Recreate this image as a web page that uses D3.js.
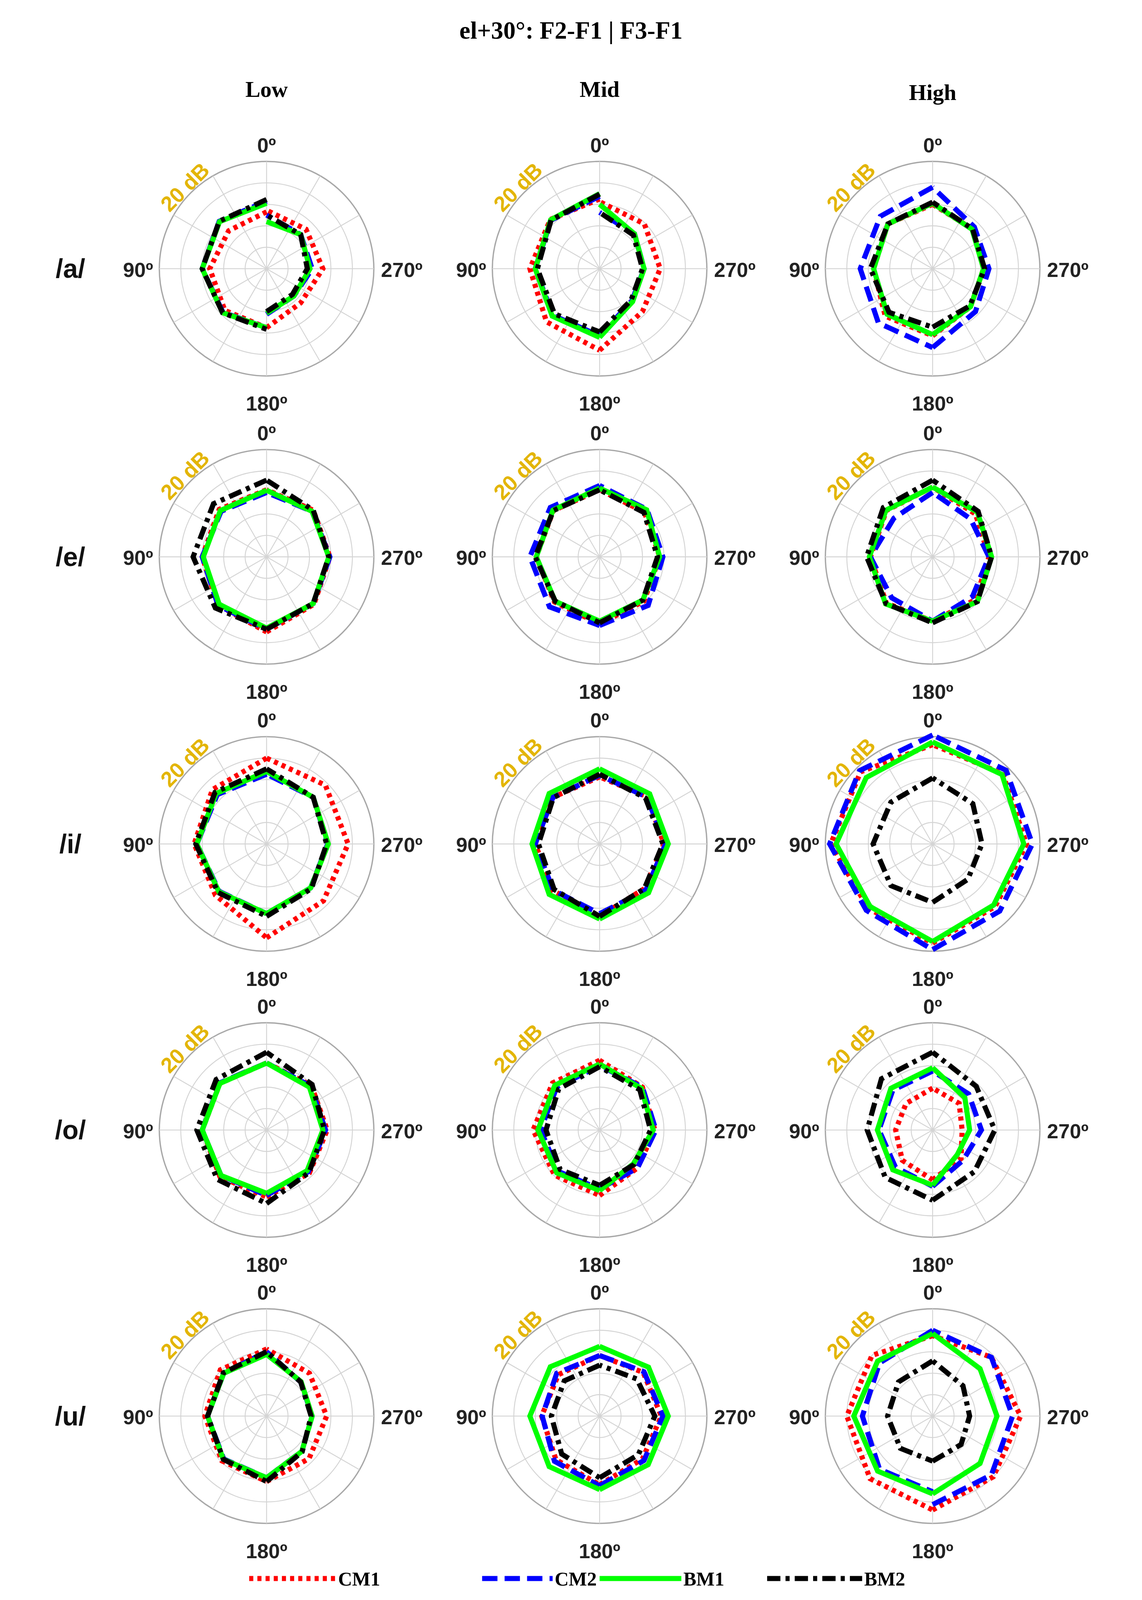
<!DOCTYPE html>
<html>
<head>
<meta charset="utf-8">
<script src="https://cdn.jsdelivr.net/npm/d3@7"></script>
<style>
  html, body { margin: 0; padding: 0; background: #fff; overflow: hidden; }
  svg { display: block; }
</style>
</head>
<body>
<div id="chart"></div>
<script>
// data, in dB (outer ring = 20 dB)
var vowels = ['/a/', '/e/', '/i/', '/o/', '/u/'];
var levels = ['Low', 'Mid', 'High'];
var seriesNames = ['CM1', 'CM2', 'BM1', 'BM2'];
var leftAngles = [0, 45, 90, 135, 180];
var rightAngles = [180, 225, 270, 315, 360];
var ringTicks = [4, 8, 12, 16, 20];
var spokeAngles = d3.range(0, 360, 30);
var tickLabels = ['0º', '90º', '180º', '270º'];

// each entry: [left half values, right half values], per series CM1, CM2, BM1, BM2
var lowA = [[[10.6,10,10.6,11,11],[11,9,10.5,10.4,10.9]], [[12.6,12.5,12,11.5,11],[8.5,7.2,8.5,9,10]], [[12.2,12.4,12,11.6,11],[8.3,7.2,8.1,9,8.8]], [[12.9,12.5,12,11.6,11.3],[8,6.8,7.6,9,10]]];
var lowE = [[[12.5,12.5,12,12.8,14],[14,12.5,11.8,12.3,12.5]], [[12,12,12,12.8,13.5],[13.5,12.3,11.8,12,12]], [[12.4,12.2,11.8,12.5,13.3],[13.3,12.3,11.6,12,12.4]], [[14.3,14,13.7,13.5,13.5],[13.5,12.3,11.6,12.3,14.3]]];
var lowI = [[[16,14.3,13.5,13.5,17.5],[17.5,15,15.2,15.5,16]], [[13,13,13,12.5,13],[13,11.6,11.4,12.3,13]], [[13.5,13.3,13,12.6,13],[13,11.6,11.5,12.3,13.5]], [[14,13.6,13.2,12.8,13.5],[13.5,11.8,11.2,12.3,14]]];
var lowO = [[[12.5,12.3,12,12.3,12.5],[12.5,11.3,11.3,11.8,12.5]], [[12.5,12.4,12,12,12.2],[12.2,11,11,11.6,12.5]], [[12.5,12.3,12,12,11.8],[11.8,10.7,10.5,11.3,12.5]], [[14.5,13.3,13,13,13.7],[13.7,11.2,10.8,12,14.5]]];
var lowU = [[[12.5,12.2,11.5,11.8,12.2],[12.2,11.2,11.2,11.3,12.5]], [[12,11.3,11,11.3,11.5],[11.5,9.3,8.5,9,12]], [[11.5,11.3,11,11.4,11.5],[11.5,9.3,8.5,9.1,11.5]], [[12,11.4,11,11.4,12.2],[12.2,9.4,8.3,9,12]]];
var midA = [[[13,13,13,14,15.2],[15.2,11.3,11.3,11.8,12.5]], [[13.5,12.8,12,12.3,12.5],[12.5,8.5,8.3,9.2,10.5]], [[14,12.9,12,12.5,12.8],[12.8,8.7,8.3,9.2,12]], [[13.9,12.8,11.6,11.9,11.8],[11.8,8.3,8,8.9,10.5]]];
var midE = [[[12.5,12.2,11.8,11.9,12.5],[12.5,11.7,11.2,11.8,12.5]], [[13.3,13,13,13.2,12.8],[12.8,12.8,11.8,12.5,13.3]], [[12.8,12.3,11.8,11.7,12],[12,11.4,11.2,12.4,12.8]], [[12.5,12.2,12,11.7,12.3],[12.3,11.4,10.8,11.7,12.5]]];
var midI = [[[12.5,12.3,12,12.3,13.5],[13.5,11.8,12,12.5,12.5]], [[12.8,12.3,12,12.2,13],[13,12.2,12.3,12.4,12.8]], [[14,13.3,12.6,13.3,14],[14,12.9,12.8,13.2,14]], [[13,12.2,11.4,12,13.5],[13.5,11.8,11.8,12.1,13]]];
var midO = [[[13,12.4,12.4,11.9,12.2],[12.2,10,10.3,11.3,13]], [[12,11.3,11,10.9,11],[11,10,10.5,11.3,12]], [[12.3,11.8,11.5,11.3,11.3],[11.3,8.9,10,11,12.3]], [[11.8,10.8,10,10.4,10.3],[10.3,9.1,9.5,10.6,11.8]]];
var midU = [[[11.3,10.9,10.8,11.5,12.8],[12.8,11.3,11.5,11.5,11.3]], [[11.3,11.3,10.7,11.9,13],[13,11.7,11.8,11.7,11.3]], [[13,13,13,13.3,13.7],[13.7,12.8,12.8,12.9,13]], [[9.5,9.3,9,10,11.5],[11.5,10.2,10.3,9.8,9.5]]];
var highA = [[[12,11.8,11,12.5,12.5],[12.5,10,9.5,10.5,12]], [[15.2,13.8,13.5,14.3,14.7],[14.7,11.3,10.5,11,15.2]], [[12.2,11.8,11,12,12.3],[12.3,10,9.5,10.4,12.2]], [[12.4,11.8,11.6,11.5,10.9],[10.9,9.8,9.7,10.5,12.4]]];
var highE = [[[13,12.2,11.6,12.2,12],[12,11.3,10.5,11.3,13]], [[12,10.2,11.6,10.8,12],[12,10.5,10.5,10,12]], [[13,12.3,11.8,12.4,12],[12,11.8,11,11.8,13]], [[14.3,13,12.3,12.3,12.3],[12.3,11.8,11,12,14.3]]];
var highI = [[[18.5,19,19,17,18.5],[18.5,16.5,17.5,18.5,18.5]], [[20.3,19.3,19.2,17.5,19.7],[19.7,17.7,18.6,19.4,20.3]], [[19,17.5,18,16.5,18.2],[18.2,16.1,17,18.3,19]], [[12.3,11,11.1,11,10.9],[10.9,9.3,9.2,10.6,12.3]]];
var highO = [[[7.8,7,6.9,8,9.3],[9.3,7.5,5.5,7,7.8]], [[11,10.5,10,9.8,10.5],[10.5,8,9.1,9.5,11]], [[11.6,11,10.3,10.5,10.3],[10.3,6.5,6.9,8.5,11.6]], [[14.5,13.5,12.2,12.5,13.1],[13.1,11,11.6,11.5,14.5]]];
var highU = [[[15,16,16,16.5,17.5],[17.5,16,16.4,15.5,15]], [[16,14,13.1,14,14.1],[16.5,15.5,14.9,15.5,16]], [[15.4,14.5,14.7,14.5,14.5],[14.5,12.5,12,12.5,15.4]], [[10.3,9,8.4,8.5,8.4],[8.4,7.5,6.9,8,10.3]]];

var panels = [
  [lowA, midA, highA],
  [lowE, midE, highE],
  [lowI, midI, highI],
  [lowO, midO, highO],
  [lowU, midU, highU]
];

// layout in a 1060 x 1566 frame, scaled to the window
var vw = 1060, vh = 1566;
var colX = [232, 558, 884];
var rowY = [263, 545, 826, 1106, 1386];
var R = 105;

var styles = [
  {color: '#ff0000', dash: '4,4', w: 5},
  {color: '#0000ff', dash: '15,7', w: 5},
  {color: '#00ff00', dash: null, w: 5},
  {color: '#000000', dash: '13,5,4,5', w: 5}
];

var svg = d3.select('#chart').append('svg')
    .attr('width', window.innerWidth || 2924)
    .attr('height', window.innerHeight || 4320)
    .attr('viewBox', '0 0 ' + vw + ' ' + vh)
    .attr('preserveAspectRatio', 'xMidYMin meet');

var rScale = d3.scaleLinear().domain([0, 20]).range([0, R]);
var rad = function(a) { return a * Math.PI / 180; };

// angles go counter-clockwise from top
var line = d3.lineRadial()
    .angle(function(d) { return -rad(d.a); })
    .radius(function(d) { return rScale(d.v); });

var serif = '"Liberation Serif", "DejaVu Serif", serif';
var sans = '"Liberation Sans", Arial, sans-serif';

svg.append('text')
    .attr('x', vw / 2).attr('y', 38)
    .attr('text-anchor', 'middle')
    .attr('font-family', serif).attr('font-weight', 'bold').attr('font-size', 24)
    .text('el+30°: F2-F1 | F3-F1');

levels.forEach(function(l, i) {
  svg.append('text')
      .attr('x', colX[i]).attr('y', i == 2 ? 98 : 95)
      .attr('text-anchor', 'middle')
      .attr('font-family', serif).attr('font-weight', 'bold').attr('font-size', 22)
      .text(l);
});

vowels.forEach(function(v, i) {
  svg.append('text')
      .attr('x', 40).attr('y', rowY[i] + 9)
      .attr('text-anchor', 'middle')
      .attr('font-family', sans).attr('font-weight', 'bold').attr('font-size', 26)
      .attr('fill', '#111')
      .text(v);
});

panels.forEach(function(row, ri) {
  row.forEach(function(panel, ci) {
    var g = svg.append('g')
        .attr('transform', 'translate(' + colX[ci] + ',' + rowY[ri] + ')');

    // grid
    g.selectAll('.ring').data(ringTicks).enter().append('circle')
        .attr('r', function(d) { return rScale(d); })
        .attr('fill', 'none')
        .attr('stroke', function(d) { return d == 20 ? '#a8a8a8' : '#d4d4d4'; })
        .attr('stroke-width', function(d) { return d == 20 ? 1.3 : 0.9; });
    g.selectAll('.spoke').data(spokeAngles).enter().append('line')
        .attr('x1', 0).attr('y1', 0)
        .attr('x2', function(d) { return -rScale(20) * Math.sin(rad(d)); })
        .attr('y2', function(d) { return -rScale(20) * Math.cos(rad(d)); })
        .attr('stroke', '#d4d4d4').attr('stroke-width', 0.9);

    // tick labels
    var lab = g.append('g')
        .attr('font-family', sans).attr('font-weight', 'bold').attr('font-size', 20)
        .attr('fill', '#222');
    lab.append('text').attr('x', 0).attr('y', -R - 9).attr('text-anchor', 'middle').text(tickLabels[0]);
    lab.append('text').attr('x', -R - 6).attr('y', 8).attr('text-anchor', 'end').text(tickLabels[1]);
    lab.append('text').attr('x', 0).attr('y', R + 34).attr('text-anchor', 'middle').text(tickLabels[2]);
    lab.append('text').attr('x', R + 7).attr('y', 8).attr('text-anchor', 'start').text(tickLabels[3]);

    g.append('text')
        .attr('transform', 'translate(' + (-80) + ',' + (-80) + ') rotate(-45)')
        .attr('text-anchor', 'middle').attr('dy', '0.35em')
        .attr('font-family', sans).attr('font-weight', 'bold').attr('font-size', 21)
        .attr('fill', '#e3b505')
        .text('20 dB');

    // series
    panel.forEach(function(s, si) {
      var halves = [
        leftAngles.map(function(a, k) { return {a: a, v: s[0][k]}; }),
        rightAngles.map(function(a, k) { return {a: a, v: s[1][k]}; })
      ];
      halves.forEach(function(h) {
        g.append('path')
            .attr('d', line(h))
            .attr('fill', 'none')
            .attr('stroke', styles[si].color)
            .attr('stroke-width', styles[si].w)
            .attr('stroke-dasharray', styles[si].dash)
            .attr('stroke-linejoin', 'miter');
      });
    });
  });
});

// legend
var legX = [[215, 300], [443, 512], [558, 638], [722, 815]];
var leg = svg.append('g');
seriesNames.forEach(function(n, i) {
  leg.append('line')
      .attr('x1', legX[i][0]).attr('x2', legX[i][1])
      .attr('y1', 1545).attr('y2', 1545)
      .attr('stroke', styles[i].color)
      .attr('stroke-width', styles[i].w)
      .attr('stroke-dasharray', styles[i].dash);
  leg.append('text')
      .attr('x', legX[i][1] + 2).attr('y', 1552)
      .attr('font-family', serif).attr('font-weight', 'bold').attr('font-size', 19)
      .text(n);
});
</script>
</body>
</html>
